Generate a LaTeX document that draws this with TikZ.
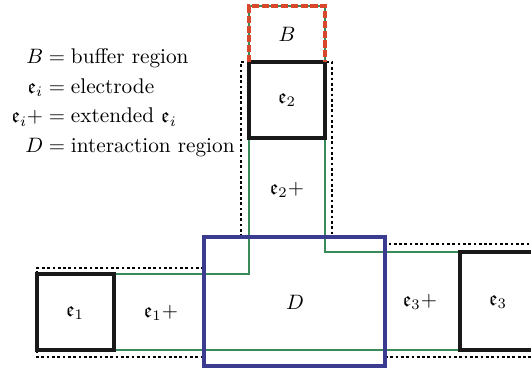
\documentclass[tikz,border=0pt]{standalone}
\usepackage{amsmath,amssymb}
\definecolor{regred}{RGB}{217,72,44}
\definecolor{reggreen}{RGB}{58,138,90}
\definecolor{regblue}{RGB}{59,59,143}
\tikzset{
  greenline/.style={draw=reggreen,line width=0.8pt},
  elecbox/.style={draw=black!90,line width=1.5pt},
  dotbox/.style={draw=black,line width=1.4pt,dash pattern=on 1.3pt off 1.25pt},
  dbox/.style={draw=regblue,line width=1.5pt},
  bbox/.style={draw=regred,line width=1.5pt,dash pattern=on 3.4pt off 1.3pt},
  lbl/.style={inner sep=1pt}
}
\begin{document}
\begin{tikzpicture}[x=0.48pt,y=-0.48pt,font=\fontsize{10.2pt}{12.3pt}\selectfont]
\useasboundingbox (0,0) rectangle (531,369);
\clip (0,0) rectangle (531,369);
% green extended regions
\draw[greenline] (114,274) -- (249,274) -- (249,6) -- (325,6) -- (325,252) -- (460,252);
\draw[greenline] (114,350) -- (460,350);
% dotted outlines
\draw[dotbox] (204,268) -- (37,268) -- (37,357) -- (204,357);
\draw[dotbox] (241,237) -- (241,62) -- (332,62) -- (332,237);
\draw[dotbox] (540,244) -- (385,244);
\draw[dotbox] (385,357) -- (540,357);
% electrodes
\draw[elecbox] (37,274) rectangle (114,350);
\draw[elecbox] (249,62) rectangle (325,138);
\draw[elecbox] (460,252) rectangle (540,350);
% interaction region
\draw[dbox] (204,237) rectangle (385,366);
% buffer region
\draw[bbox] (249,62) -- (249,6) -- (325,6) -- (325,62);
% labels
\node[lbl] (tB) at (287,34) {$B$};
\node[lbl] (te2) at (287,100) {$\mathfrak{e}_2$};
\node[lbl] (te2p) at (287,190) {$\mathfrak{e}_2+$};
\node[lbl] (te1) at (75,313) {$\mathfrak{e}_1$};
\node[lbl] (te1p) at (161,313) {$\mathfrak{e}_1+$};
\node[lbl] (tD) at (295,302) {$D$};
\node[lbl] (te3p) at (420,302) {$\mathfrak{e}_3+$};
\node[lbl] (te3) at (498,302) {$\mathfrak{e}_3$};
% legend
\node[anchor=east,inner sep=0pt] (legend) at (235,103) {\setlength{\jot}{1.9pt}$\begin{aligned}
 B &= \text{buffer region}\\
 \mathfrak{e}_i &= \text{electrode}\\
 \mathfrak{e}_i+ &= \text{extended } \mathfrak{e}_i\\
 D &= \text{interaction region}
\end{aligned}$};
\end{tikzpicture}
\end{document}
